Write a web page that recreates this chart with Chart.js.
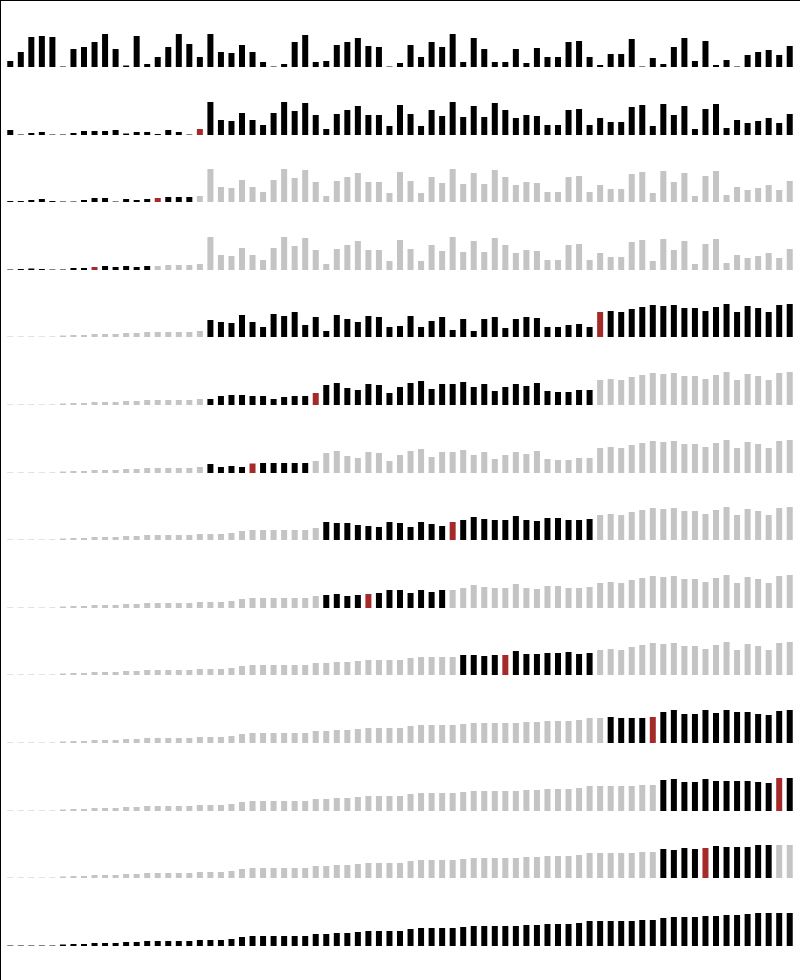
<!DOCTYPE html>
<html><head><meta charset="utf-8">
<script src="https://cdn.jsdelivr.net/npm/chart.js@4/dist/chart.umd.min.js"></script>
<style>
html,body{margin:0;padding:0;background:#fff;}
#frame{position:absolute;left:0;top:0;width:800px;height:980px;border-left:1px solid #000;border-top:1px solid #000;box-sizing:border-box;}
.row{position:absolute;left:5px;width:790px;height:60px;}
</style></head><body><div id="frame"></div>
<script>
// Sorted values (final state)
const sortedVals = [0.5,0.5,0.5,0.5,0.5,1.5,2,2,3,3,3,4,4,5,5,5,5,5,6,6,6,7,9,10,10,10,10,10,10,12,12,13,13,14,15,15,15,15,17,18,18,18,18,19,20,20,20,20,20,21,21,22,22,22,23,25,25,25,25,25,26,26,28,29,29,29,30,30,31,31,32,33,33,33,33];

const row1 = [6,15,30,31,30,0.5,18,20,25,33,18,1.5,31,3,10,20,33,23,10,33,15,14,22,15,5,0.5,3,25,32,5,6,22,25,29,21,20,0.5,4,22,10,25,20,33,5,29,18,5,5,18,4,19,10,10,25,26,10,2,13,13,28,0.5,9,3,20,29,6,26,2,7,0.5,12,15,17,12,21];

const row2 = [5,0.5,2,3,0.5,0.5,2,4,4,4,5,1.5,3,3,1,5,3,0.5,6,33,15,14,22,15,10,22,33,24,32,20,6,21,25,29,20,20,9,30,21,9,25,19,33,18,29,18,32,25,17,20,19,10,10,25,26,10,17,13,13,28,30,9,31,20,29,6,26,31,7,15,12,14,17,12,21];

const row3 = [1,1,2,3,1,0.5,0.5,2,4,4,0.5,3,2,3,4,5,5,5,6,33,15,14,22,15,10,22,33,24,32,20,6,21,25,29,20,20,9,30,21,9,25,19,33,18,29,18,32,25,17,20,19,10,10,25,26,10,17,13,13,28,30,9,31,20,29,6,26,31,7,15,12,14,17,12,21];

const row4 = [0.5,1,1.5,1,0.5,0.5,2,2,3,4,3,4,3,4,4,5,5,5,6,33,15,14,22,15,10,22,33,24,32,20,6,21,25,29,20,20,9,30,21,9,25,19,33,18,29,18,32,25,17,20,19,10,10,25,26,10,17,13,13,28,30,9,31,20,29,6,26,31,7,15,12,14,17,12,21];

const row5 = [0.5,0.5,0.5,0.5,0.5,1.5,2,2,3,3,3,4,4,5,5,5,5,5,6,17,15,14,22,15,10,23,21,25,12,20,6,22,18,15,21,20,10,11,21,10,16,20,7,18,6,18,20,9,18,20,19,10,10,12,13,10,25,26,25,28,30,32,31,32,29,29,26,30,33,25,31,29,25,32,33];

const row6 = [0.5,0.5,0.5,0.5,0.5,1.5,2,2,3,3,3,4,4,5,5,5,5,5,6,6,9,10,10,9,9,6,8,9,9,12,20,22,17,15,21,20,12,18,22,24,16,21,21,23,18,21,14,18,21,19,22,14,13,13,15,15,25,26,25,28,30,32,31,32,29,29,26,30,33,25,31,29,25,32,33];

const row7 = [0.5,0.5,0.5,0.5,0.5,1.5,2,2,3,3,3,4,4,5,5,5,5,5,6,9,6,7,6,9.5,10,10,10,10,10,12,20,22,17,15,21,20,12,18,22,24,16,21,21,23,18,21,14,18,21,19,22,14,13,13,15,15,25,26,25,28,30,32,31,32,29,29,26,30,33,25,31,29,25,32,33];

const row8 = [0.5,0.5,0.5,0.5,0.5,1.5,2,2,3,3,3,4,4,5,5,5,5,5,6,6,6,7,9,10,10,10,10,10,10,12,18,17,17,15,14,13,18,17,13,18,16,14,18,20,23,21,20,20,24,20,19,22,22,20,20,21,25,26,25,28,30,32,31,32,29,29,26,30,33,25,31,29,25,32,33];

const row9 = [0.5,0.5,0.5,0.5,0.5,1.5,2,2,3,3,3,4,4,5,5,5,5,5,6,6,6,7,9,10,10,10,10,10,10,12,13,14,12,13,14,15,18,18,15,18,16,18,18,20,23,21,20,20,24,20,19,22,22,20,20,21,25,26,25,28,30,32,31,32,29,29,26,30,33,25,31,29,25,32,33];

const row10 = [0.5,0.5,0.5,0.5,0.5,1.5,2,2,3,3,3,4,4,5,5,5,5,5,6,6,6,7,9,10,10,10,10,10,10,12,12,13,13,14,15,15,15,15,17,18,18,18,18,20,20,19,20,20,24,21,21,22,22,23,21,22,25,26,25,28,30,32,31,32,29,29,26,30,33,25,31,29,25,32,33];

const row11 = [0.5,0.5,0.5,0.5,0.5,1.5,2,2,3,3,3,4,4,5,5,5,5,5,6,6,6,7,9,10,10,10,10,10,10,12,12,13,13,14,15,15,15,15,17,18,18,18,18,19,20,20,20,20,20,21,21,22,22,22,23,25,25,26,25,25,25,26,31,33,29,29,33,30,33,31,31,29,28,32,33];

const row12 = [0.5,0.5,0.5,0.5,0.5,1.5,2,2,3,3,3,4,4,5,5,5,5,5,6,6,6,7,9,10,10,10,10,10,10,12,12,13,13,14,15,15,15,15,17,18,18,18,18,19,20,20,20,20,20,21,21,22,22,22,23,25,25,25,25,25,26,26,31,32,29,29,32,30,30,30,30,29,28,33,33];

const row13 = [0.5,0.5,0.5,0.5,0.5,1.5,2,2,3,3,3,4,4,5,5,5,5,5,6,6,6,7,9,10,10,10,10,10,10,12,12,13,13,14,15,15,15,15,17,18,18,18,18,19,20,20,20,20,20,21,21,22,22,22,23,25,25,25,25,25,26,26,29,28,30,29,30,32,31,31,31,33,33,33,33];

const row14 = sortedVals;

// Active range per step: [first bar, last bar, pivot bar] (1-based), pivot 0 = none
const activeFirst = [1,1,1,1,20,20,20,31,31,44,58,63,63,1];
const activeLast  = [75,75,18,14,75,56,29,56,42,56,75,75,73,75];
const pivotBar    = [0,19,15,9,57,30,24,43,35,48,62,74,67,0];

const rows = [row1,row2,row3,row4,row5,row6,row7,row8,row9,row10,row11,row12,row13,row14];
const barLabels = row1.map((_, i) => String(i + 1));

const BLACK = '#000000', GRAY = '#c4c4c4', RED = '#a52a2a';

rows.forEach((vals, r) => {
  const div = document.createElement('div');
  div.className = 'row';
  const base = Math.round(67 + r * 67.6);
  div.style.top = (base - 60) + 'px';
  const cv = document.createElement('canvas');
  cv.width = 790; cv.height = 60;
  cv.style.width = '790px'; cv.style.height = '60px';
  div.appendChild(cv);
  document.body.appendChild(div);
  const colors = vals.map((_, i) => {
    const n = i + 1;
    if (n === pivotBar[r]) return RED;
    if (n >= activeFirst[r] && n <= activeLast[r]) return BLACK;
    return GRAY;
  });
  new Chart(cv, {
    type: 'bar',
    data: { labels: barLabels, datasets: [{ data: vals, backgroundColor: colors, borderWidth: 0, barPercentage: 0.57, categoryPercentage: 1 }] },
    options: {
      responsive: false, animation: false, events: [],
      devicePixelRatio: 1,
      layout: { padding: 0 },
      plugins: { legend: { display: false }, tooltip: { enabled: false } },
      scales: { x: { display: false }, y: { display: false, min: 0, max: 60 } }
    }
  });
});
</script></body></html>
